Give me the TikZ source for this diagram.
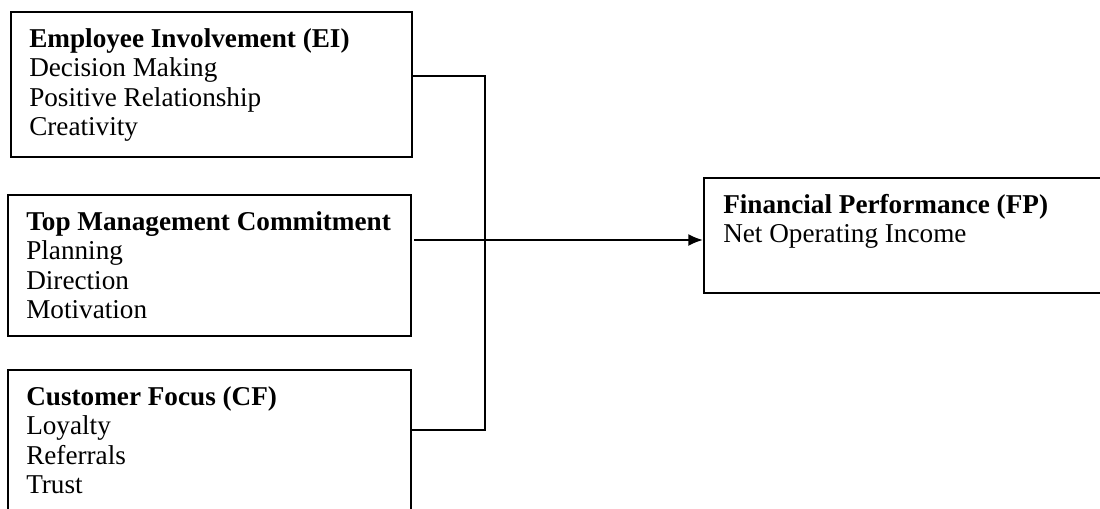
\documentclass[tikz,border=0pt]{standalone}
\usepackage{fontspec}
\setmainfont{Liberation Serif}
\usetikzlibrary{arrows.meta, calc}
\tikzset{
    factorBox/.style={draw, rectangle, line width=1.5pt, inner sep=0pt},
    factorText/.style={anchor=base west, align=left, inner sep=0pt, font=\fontsize{20.4pt}{22.1pt}\selectfont},
    linkLine/.style={line width=1.5pt},
    linkArrow/.style={-{Latex[length=11pt, width=9pt]}, line width=1.5pt},
}

\begin{document}
\begin{tikzpicture}[x=0.75pt, y=-0.75pt]
        \useasboundingbox (0,0) rectangle (1100,508);

        % boxes
        \node[factorBox, minimum width=300.75pt, minimum height=108.75pt] (ei) at (211.5, 84.5) {};
        \node[factorBox, minimum width=302.25pt, minimum height=105.75pt] (tmc) at (209.5, 265.5) {};
        \node[factorBox, minimum width=302.25pt, minimum height=108.75pt] (cf) at (209.5, 442.5) {};
        \node[factorBox, minimum width=308.25pt, minimum height=86.25pt] (fp) at (909.5, 235.5) {};

        % texts (placed at the baseline of the last line)
        \node[factorText] (eiText) at (29, 135.5) {\textbf{Employee Involvement (EI)}\\Decision Making\\Positive Relationship\\Creativity};
        \node[factorText] (tmcText) at (26, 318.5) {\textbf{Top Management Commitment}\\Planning\\Direction\\Motivation};
        \node[factorText] (cfText) at (26, 493.5) {\textbf{Customer Focus (CF)}\\Loyalty\\Referrals\\Trust};
        \node[factorText] (fpText) at (723, 242.5) {\textbf{Financial Performance (FP)}\\Net Operating Income};

        \coordinate (joinTop) at (485, 76);
        \coordinate (joinMid) at (485, 240);
        \coordinate (joinBot) at (485, 430);

        \draw[linkLine] (ei.east |- joinTop) -- (joinTop) -- (joinBot) -- (cf.east |- joinBot);
        \draw[linkLine, shorten <=1.5pt] (tmc.east |- joinMid) -- (joinMid);
        \draw[linkArrow] (joinMid) -- (fp.west |- joinMid);

    \end{tikzpicture}
\end{document}
